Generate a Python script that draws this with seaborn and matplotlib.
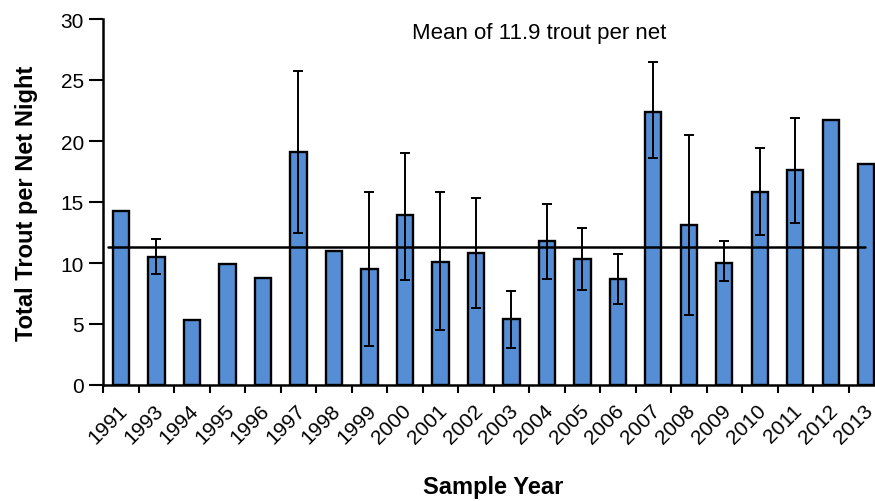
import numpy as np
import pandas as pd
import matplotlib
matplotlib.use("Agg")
import matplotlib.pyplot as plt
import matplotlib.transforms as mtransforms
import seaborn as sns

years = ["1991", "1993", "1994", "1995", "1996", "1997", "1998", "1999", "2000", "2001",
         "2002", "2003", "2004", "2005", "2006", "2007", "2008", "2009", "2010", "2011",
         "2012", "2013"]
trout = [14.3, 10.5, 5.3, 9.9, 8.8, 19.1, 11.0, 9.5, 13.9, 10.1,
         10.8, 5.4, 11.8, 10.3, 8.7, 22.4, 13.1, 10.0, 15.8, 17.6,
         21.7, 18.1]
err_low = [np.nan, 9.1, np.nan, np.nan, np.nan, 12.5, np.nan, 3.2, 8.6, 4.5,
           6.3, 3.0, 8.7, 7.8, 6.6, 18.6, 5.7, 8.5, 12.3, 13.3,
           np.nan, np.nan]
err_high = [np.nan, 12.0, np.nan, np.nan, np.nan, 25.7, np.nan, 15.8, 19.0, 15.8,
            15.3, 7.7, 14.8, 12.9, 10.7, 26.5, 20.5, 11.8, 19.4, 21.9,
            np.nan, np.nan]
mean_line = 11.3
annotation = "Mean of 11.9 trout per net"

df = pd.DataFrame({"Year": years, "Trout": trout})

sns.set_style("white")
plt.rcParams["font.family"] = ["Liberation Sans", "DejaVu Sans"]
plt.rcParams["text.color"] = "black"
plt.rcParams["axes.labelcolor"] = "black"
plt.rcParams["xtick.color"] = "black"
plt.rcParams["ytick.color"] = "black"

fig = plt.figure(figsize=(8.75, 5.02), dpi=100)
ax = fig.add_axes([103.25 / 875, 116 / 502, (884 - 103.25) / 875, 366 / 502])

sns.barplot(data=df, x="Year", y="Trout", ax=ax, color="#558ED5", saturation=1,
            width=0.46, edgecolor="black", linewidth=1.7, errorbar=None)

pos = np.arange(len(years))
vals = np.array(trout)
lo = np.array(err_low)
hi = np.array(err_high)
mask = ~np.isnan(lo)
ax.errorbar(pos[mask], vals[mask], yerr=[vals[mask] - lo[mask], hi[mask] - vals[mask]],
            fmt="none", ecolor="black", elinewidth=1.4, capsize=3.8, capthick=1.4, zorder=5)

ax.axhline(mean_line, xmin=0.006, xmax=0.976, color="black", linewidth=1.8, zorder=6)

ax.set_ylim(0, 30)
ax.set_xlim(-0.5, len(years) - 0.5)
ax.set_yticks(range(0, 31, 5))
ax.set_xticks(pos)
ax.set_xticklabels(years, rotation=45, ha="right", rotation_mode="anchor")
ax.set_xticks(np.arange(-0.5, len(years), 1.0), minor=True)
ax.tick_params(axis="x", which="major", bottom=True, length=0, labelsize=15, pad=11)
ax.tick_params(axis="x", which="minor", bottom=True, length=6, width=1.5, direction="out")
ax.tick_params(axis="y", left=True, length=10, width=1.5, direction="out", labelsize=15, pad=4)

shift = mtransforms.ScaledTranslation(-0.03, 0, fig.dpi_scale_trans)
for lab in ax.get_xticklabels():
    lab.set_transform(lab.get_transform() + shift)

for s in ["top", "right"]:
    ax.spines[s].set_visible(False)
for s in ["left", "bottom"]:
    ax.spines[s].set_color("black")
    ax.spines[s].set_linewidth(1.8)

ax.set_xlabel("Sample Year", fontsize=17, fontweight="bold", labelpad=20)
ax.set_ylabel("Total Trout per Net Night", fontsize=17, fontweight="bold", labelpad=16)
ax.text((539 - 103.25) / (884 - 103.25), 0.962, annotation, transform=ax.transAxes,
        fontsize=16, color="black", ha="center", va="center")

fig.savefig("out.png", dpi=100)
